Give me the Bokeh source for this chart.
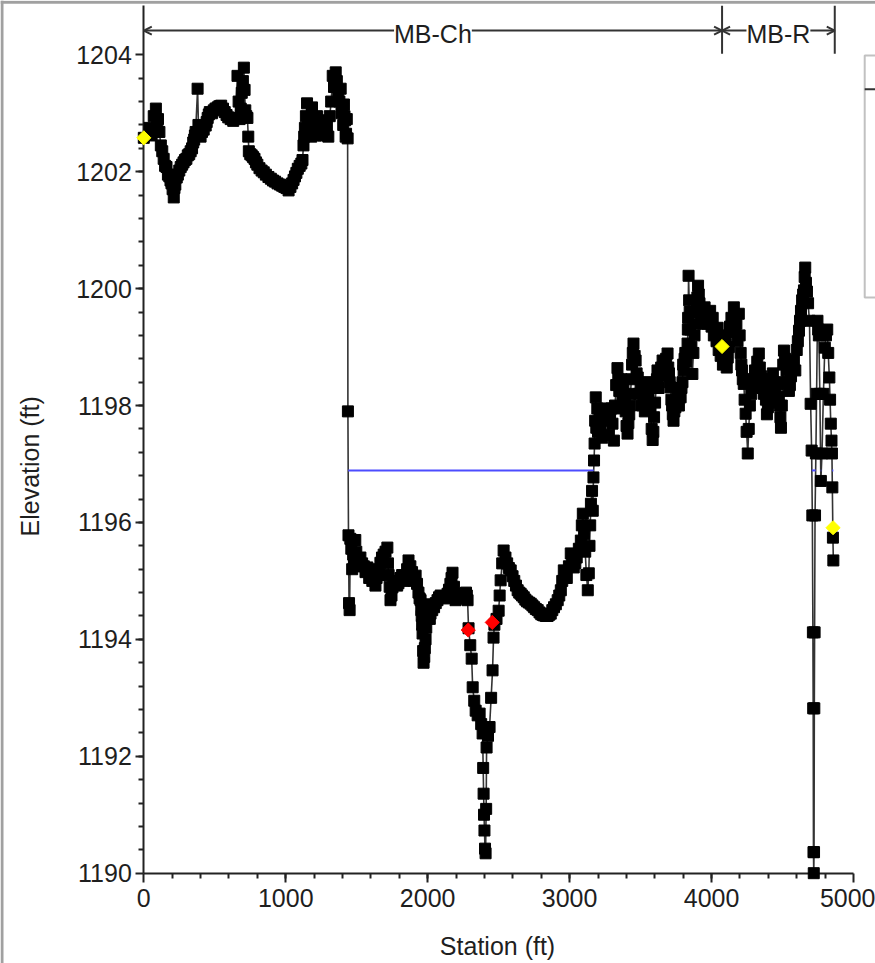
import numpy as np
from bokeh.plotting import figure
from bokeh.models import FixedTicker, Arrow, OpenHead, Label, Range1d, BoxAnnotation, Span
from bokeh.embed import file_html
from bokeh.resources import INLINE

# ---------------- data ----------------
# ground points (station ft, elevation ft), left high ground
ground_left = [
    (0, 1202.58), (40, 1202.75), (55, 1202.62), (70, 1202.95), (85, 1203.08), (95, 1202.85), (100, 1202.90),
    (110, 1202.68), (120, 1202.45), (130, 1202.35), (140, 1202.22), (150, 1202.10), (160, 1202.08),
    (170, 1201.95), (180, 1201.92), (188, 1201.85), (195, 1201.80), (203, 1201.70), (211, 1201.56),
    (216, 1201.72), (222, 1201.78), (232, 1201.90), (240, 1201.95), (250, 1202.02), (260, 1202.08),
    (270, 1202.12), (280, 1202.16), (290, 1202.20), (300, 1202.22), (310, 1202.28), (320, 1202.30),
    (330, 1202.35), (340, 1202.40), (348, 1202.50), (355, 1202.55), (360, 1202.62), (365, 1202.68),
    (379, 1203.42), (385, 1202.80), (390, 1202.75), (400, 1202.60), (410, 1202.68), (422, 1202.72),
    (436, 1202.79), (443, 1202.85), (450, 1202.92), (458, 1202.98), (465, 1203.02), (480, 1203.00),
    (493, 1203.05), (505, 1203.08), (520, 1203.10), (532, 1203.12), (545, 1203.13), (558, 1203.08),
    (570, 1203.02), (583, 1202.97), (595, 1202.93), (612, 1202.90), (630, 1202.87), (645, 1202.92),
    (660, 1203.64), (668, 1203.20), (675, 1202.90), (683, 1203.08), (690, 1203.35), (698, 1203.55),
    (705, 1203.78), (710, 1203.40), (715, 1203.05), (722, 1202.95), (730, 1202.92), (736, 1202.60),
    (740, 1202.35), (750, 1202.30), (760, 1202.28), (770, 1202.25), (780, 1202.22), (790, 1202.16),
    (800, 1202.12), (815, 1202.06), (830, 1202.02), (845, 1201.99), (860, 1201.95), (878, 1201.91),
    (895, 1201.88), (910, 1201.85), (925, 1201.83), (942, 1201.80), (960, 1201.78), (975, 1201.76),
    (990, 1201.74), (1005, 1201.72), (1020, 1201.68), (1033, 1201.74), (1045, 1201.80), (1055, 1201.86),
    (1065, 1201.92), (1075, 1201.98), (1085, 1202.05), (1098, 1202.10), (1110, 1202.14), (1118, 1202.20),
    (1125, 1202.45), (1130, 1202.60), (1135, 1202.75), (1142, 1202.95), (1150, 1203.17), (1157, 1202.90),
    (1165, 1202.70), (1172, 1202.85), (1180, 1202.60), (1185, 1203.10), (1192, 1202.75), (1200, 1202.80),
    (1210, 1202.62), (1220, 1202.95), (1230, 1202.70), (1245, 1202.88), (1255, 1202.70), (1265, 1202.62),
    (1275, 1202.85), (1290, 1202.78), (1300, 1202.60), (1310, 1202.95), (1320, 1203.20), (1331, 1203.64),
    (1340, 1203.45), (1352, 1203.70), (1360, 1203.55), (1370, 1203.38), (1378, 1203.20), (1387, 1203.42),
    (1393, 1203.00), (1400, 1203.10), (1405, 1202.80), (1410, 1203.15), (1414, 1202.95), (1418, 1202.88),
    (1422, 1202.60), (1425, 1202.65), (1430, 1202.90), (1436, 1202.57),
]
# ground points in the main channel
ground_channel = [
    (1438, 1197.90), (1442, 1195.78), (1446, 1194.62), (1450, 1194.50), (1455, 1195.72), (1462, 1195.55),
    (1468, 1195.20), (1475, 1195.45), (1482, 1195.30), (1490, 1195.70), (1497, 1195.50), (1505, 1195.38),
    (1515, 1195.25), (1526, 1195.40), (1538, 1195.30), (1550, 1195.25), (1562, 1195.15), (1575, 1195.23),
    (1588, 1195.05), (1600, 1195.10), (1610, 1195.00), (1620, 1195.18), (1632, 1194.92), (1640, 1195.05),
    (1650, 1195.20), (1658, 1195.10), (1667, 1195.31), (1678, 1195.40), (1690, 1195.45), (1703, 1195.50),
    (1716, 1195.57), (1720, 1195.30), (1725, 1195.10), (1732, 1194.90), (1738, 1194.67), (1745, 1194.75),
    (1752, 1194.89), (1763, 1194.95), (1775, 1195.00), (1785, 1194.92), (1794, 1194.96), (1808, 1195.05),
    (1820, 1195.10), (1832, 1195.00), (1844, 1195.04), (1855, 1195.20), (1865, 1195.35), (1878, 1195.25),
    (1890, 1195.15), (1902, 1195.00), (1915, 1195.09), (1925, 1194.95), (1935, 1194.80), (1943, 1194.70),
    (1950, 1194.67), (1955, 1194.50), (1958, 1194.40), (1961, 1194.25), (1964, 1194.10), (1968, 1193.80),
    (1971, 1193.60), (1976, 1193.70), (1980, 1193.85), (1985, 1194.00), (1990, 1194.20), (1995, 1194.35),
    (2000, 1194.50), (2005, 1194.60), (2010, 1194.45), (2015, 1194.35), (2020, 1194.44), (2032, 1194.50),
    (2045, 1194.55), (2057, 1194.62), (2069, 1194.67), (2080, 1194.72), (2091, 1194.75), (2103, 1194.72),
    (2115, 1194.70), (2128, 1194.74), (2140, 1194.78), (2150, 1194.85), (2160, 1194.95), (2168, 1195.05),
    (2175, 1195.14), (2185, 1194.90), (2196, 1194.67), (2210, 1194.70), (2225, 1194.72), (2240, 1194.75),
    (2253, 1194.78), (2262, 1194.70), (2270, 1194.80), (2276, 1194.75), (2281, 1194.67), (2288, 1194.19),
    (2300, 1193.90), (2310, 1193.67), (2317, 1193.18), (2328, 1192.95), (2338, 1192.78), (2352, 1192.70),
    (2366, 1192.73), (2377, 1192.55), (2387, 1192.39), (2391, 1191.80), (2394, 1191.36), (2397, 1191.00),
    (2400, 1190.73), (2404, 1190.42), (2408, 1190.34), (2412, 1191.10), (2415, 1192.15), (2425, 1192.35),
    (2436, 1192.50), (2447, 1193.00), (2457, 1193.47), (2464, 1194.03), (2470, 1194.25), (2485, 1194.35),
    (2500, 1194.49), (2507, 1194.75), (2514, 1195.01), (2525, 1195.30), (2535, 1195.52), (2548, 1195.40),
    (2560, 1195.30), (2572, 1195.22), (2585, 1195.18), (2598, 1195.08), (2610, 1195.00), (2622, 1194.92),
    (2634, 1194.84), (2645, 1194.80), (2655, 1194.78), (2665, 1194.75), (2677, 1194.72), (2688, 1194.68),
    (2700, 1194.65), (2713, 1194.63), (2726, 1194.61), (2738, 1194.58), (2750, 1194.55), (2762, 1194.52),
    (2775, 1194.50), (2788, 1194.46), (2800, 1194.43), (2810, 1194.42), (2818, 1194.41), (2832, 1194.40),
    (2845, 1194.40), (2856, 1194.42), (2867, 1194.44), (2878, 1194.50), (2890, 1194.55), (2903, 1194.60),
    (2916, 1194.67), (2927, 1194.75), (2938, 1194.84), (2948, 1195.00), (2959, 1195.18), (2970, 1195.10),
    (2980, 1195.05), (2995, 1195.25), (3008, 1195.47), (3018, 1195.35), (3029, 1195.23), (3040, 1195.30),
    (3050, 1195.40), (3065, 1195.55), (3079, 1195.69), (3086, 1195.95), (3093, 1196.15), (3102, 1195.80),
    (3110, 1195.50), (3118, 1195.10), (3128, 1194.84), (3135, 1195.13), (3140, 1195.60), (3145, 1195.95),
    (3150, 1196.32), (3158, 1196.54), (3163, 1196.20), (3168, 1196.77), (3172, 1197.06), (3176, 1197.35),
    (3180, 1197.74), (3184, 1198.14),
]
# ground points, right high ground and right overbank
ground_right = [
    (3188, 1197.62), (3195, 1197.95), (3200, 1197.55), (3210, 1197.85), (3218, 1197.62), (3230, 1197.45),
    (3240, 1197.80), (3255, 1197.95), (3267, 1197.74), (3275, 1197.50), (3285, 1197.85), (3295, 1197.95),
    (3302, 1197.69), (3312, 1197.40), (3320, 1198.00), (3328, 1198.35), (3337, 1198.64), (3343, 1198.45),
    (3350, 1198.25), (3358, 1197.95), (3365, 1198.45), (3372, 1198.10), (3379, 1198.30), (3387, 1198.05),
    (3395, 1197.90), (3401, 1197.65), (3408, 1197.52), (3414, 1197.70), (3420, 1197.85), (3425, 1198.00),
    (3429, 1198.20), (3435, 1198.45), (3440, 1198.70), (3445, 1198.90), (3450, 1199.06), (3458, 1198.85),
    (3465, 1198.77), (3472, 1198.55), (3480, 1198.48), (3490, 1198.20), (3500, 1198.30), (3510, 1198.00),
    (3520, 1198.09), (3530, 1197.90), (3540, 1198.25), (3548, 1198.40), (3556, 1198.20), (3563, 1198.00),
    (3570, 1197.95), (3578, 1197.60), (3585, 1197.41), (3590, 1197.55), (3595, 1197.80), (3602, 1198.05),
    (3610, 1198.30), (3615, 1198.45), (3619, 1198.60), (3627, 1198.30), (3635, 1198.50), (3645, 1198.65),
    (3655, 1198.77), (3662, 1198.55), (3670, 1198.70), (3680, 1198.80), (3690, 1198.89), (3695, 1198.65),
    (3700, 1198.55), (3705, 1198.40), (3711, 1198.31), (3717, 1198.10), (3722, 1198.00), (3727, 1197.85),
    (3732, 1197.74), (3738, 1197.90), (3745, 1197.97), (3752, 1198.10), (3760, 1198.20), (3770, 1198.00),
    (3782, 1198.14), (3788, 1198.30), (3795, 1198.40), (3800, 1198.70), (3803, 1198.60), (3810, 1198.80),
    (3815, 1198.90), (3822, 1198.75), (3831, 1199.06), (3833, 1199.30), (3835, 1199.50), (3838, 1200.22),
    (3842, 1199.80), (3846, 1199.60), (3850, 1199.30), (3858, 1199.00), (3865, 1198.54), (3872, 1198.90),
    (3880, 1199.20), (3887, 1199.40), (3894, 1199.62), (3900, 1199.85), (3905, 1200.05), (3910, 1199.90),
    (3915, 1199.75), (3922, 1199.60), (3930, 1199.55), (3940, 1199.40), (3951, 1199.68), (3960, 1199.50),
    (3970, 1199.40), (3980, 1199.55), (3990, 1199.62), (4000, 1199.35), (4008, 1199.50), (4016, 1199.20),
    (4025, 1199.30), (4035, 1199.10), (4043, 1199.33), (4050, 1198.95), (4055, 1199.10), (4064, 1198.85),
    (4074, 1199.01), (4080, 1198.70), (4085, 1198.82), (4092, 1199.20), (4100, 1199.05), (4107, 1198.65),
    (4114, 1198.82), (4122, 1199.00), (4130, 1199.35), (4140, 1199.50), (4148, 1199.25), (4157, 1199.68),
    (4165, 1199.30), (4175, 1199.40), (4183, 1199.10), (4192, 1199.57), (4198, 1199.20), (4205, 1198.90),
    (4210, 1198.70), (4215, 1198.60), (4220, 1198.45), (4227, 1198.37), (4233, 1198.10), (4240, 1197.86),
    (4247, 1197.55), (4255, 1197.18), (4262, 1197.60), (4270, 1198.00), (4280, 1198.20), (4290, 1198.45),
    (4298, 1198.31), (4306, 1198.60), (4315, 1198.55), (4322, 1198.75), (4333, 1198.89), (4340, 1198.65),
    (4350, 1198.50), (4358, 1198.30), (4369, 1198.20), (4376, 1198.35), (4383, 1198.10), (4390, 1197.85),
    (4397, 1197.97), (4405, 1198.15), (4415, 1198.30), (4422, 1198.45), (4432, 1198.55), (4440, 1198.35),
    (4450, 1198.20), (4458, 1198.05), (4467, 1198.37), (4474, 1198.15), (4480, 1198.00), (4485, 1197.80),
    (4489, 1197.62), (4495, 1198.00), (4500, 1198.40), (4505, 1198.70), (4510, 1198.94), (4518, 1198.80),
    (4528, 1198.60), (4536, 1198.40), (4545, 1198.25), (4552, 1198.35), (4560, 1198.50), (4570, 1198.65),
    (4580, 1198.77), (4590, 1198.60), (4600, 1198.95), (4608, 1199.10), (4616, 1199.28), (4623, 1199.45),
    (4630, 1199.62), (4638, 1199.80), (4645, 1199.90), (4651, 1199.97), (4656, 1200.20), (4660, 1200.36),
    (4665, 1200.10), (4672, 1199.95), (4680, 1199.75), (4690, 1199.45), (4698, 1198.03), (4705, 1197.23),
    (4710, 1196.12), (4714, 1194.12), (4716, 1192.82), (4718, 1190.36), (4720, 1190.00), (4722, 1190.36),
    (4724, 1192.82), (4726, 1194.12), (4729, 1196.12), (4735, 1197.18), (4740, 1198.20), (4746, 1199.45),
    (4751, 1199.30), (4756, 1199.20), (4763, 1198.20), (4770, 1196.71), (4778, 1197.18), (4788, 1198.20),
    (4798, 1198.99), (4806, 1199.20), (4815, 1199.30), (4822, 1198.90), (4830, 1198.48), (4835, 1198.10),
    (4840, 1197.69), (4845, 1197.40), (4848, 1197.18), (4851, 1196.60), (4855, 1195.74), (4858, 1195.35),
]
bank_station = [0, 4074, 4856]
bank_elevation = [1202.58, 1199.01, 1195.91]
red_station = [2286, 2455]
red_elevation = [1194.16, 1194.29]
water_surface = 1196.89
reach_bounds = [0, 4074, 4868]
reach_labels = ["MB-Ch", "MB-R"]
x_ticks = [0, 1000, 2000, 3000, 4000, 5000]
y_ticks = [1190, 1192, 1194, 1196, 1198, 1200, 1202, 1204]

# ---------------- styles / layout ----------------
FONT = "Liberation Sans"
TXT = "#1e1e1e"
AX = "#222222"
X_RANGE = (-1009.6, 5155.0)
Y_RANGE = (1188.455, 1204.929)
AXIS_TOP = 1204.84
ARROW_Y = 1204.415
LABEL_Y = 1204.35
BAR_BOTTOM = 1204.02

profile = ground_left + ground_channel + ground_right
station = [s for s, _ in profile]
elevation = [e for _, e in profile]

# water surface drawn where the ground lies below it
st = np.array(station, dtype=float)
el = np.array(elevation, dtype=float)
below = el < water_surface
ws_xs, ws_ys = [], []
start = None
n = len(st)
for i in range(n):
    if below[i] and (i == 0 or not below[i - 1]):
        start = st[0] if i == 0 else st[i - 1] + (water_surface - el[i - 1]) * (st[i] - st[i - 1]) / (el[i] - el[i - 1])
    if below[i] and (i == n - 1 or not below[i + 1]):
        end = st[-1] if i == n - 1 else st[i] + (water_surface - el[i]) * (st[i + 1] - st[i]) / (el[i + 1] - el[i])
        ws_xs.append([start, end])
        ws_ys.append([water_surface, water_surface])

p = figure(width=875, height=963, x_range=Range1d(*X_RANGE), y_range=Range1d(*Y_RANGE),
           output_backend="svg", toolbar_location=None, min_border=0,
           min_border_left=0, min_border_right=0, min_border_top=0, min_border_bottom=0)
p.xgrid.visible = False
p.ygrid.visible = False
p.outline_line_color = None
p.background_fill_color = "white"
p.border_fill_color = "white"

p.xaxis.ticker = FixedTicker(ticks=x_ticks, minor_ticks=list(range(200, 5000, 200)))
p.yaxis.ticker = FixedTicker(ticks=y_ticks, minor_ticks=[round(1190 + 0.4 * k, 1) for k in range(1, 35)])
p.xaxis.fixed_location = 1190
p.yaxis.fixed_location = 0
p.xaxis.bounds = (0, 5000)
p.yaxis.bounds = (1190, AXIS_TOP)

for ax in (p.xaxis, p.yaxis):
    ax.axis_line_color = AX
    ax.axis_line_width = 2
    ax.major_tick_line_color = AX
    ax.major_tick_line_width = 2
    ax.minor_tick_line_color = AX
    ax.minor_tick_line_width = 2
    ax.major_tick_in = 0
    ax.minor_tick_in = 0
    ax.major_label_text_font = FONT
    ax.major_label_text_font_size = "25px"
    ax.major_label_text_color = TXT

p.xaxis.major_tick_out = 9
p.xaxis.minor_tick_out = 5
p.xaxis.major_label_standoff = 7
p.yaxis.major_tick_out = 8
p.yaxis.minor_tick_out = 5
p.yaxis.major_label_standoff = 4

# window frame edges of the original screenshot
p.add_layout(Span(location=-999, dimension="height", line_color="#a0a0a0", line_width=3))
p.add_layout(Span(location=1204.90, dimension="width", line_color="#a0a0a0", line_width=3))

# axis titles
p.add_layout(Label(x=2492, y=1188.75, text="Station (ft)", text_align="center", text_baseline="middle",
                   text_font=FONT, text_font_size="25px", text_color=TXT))
p.add_layout(Label(x=-800, y=1196.96, text="Elevation (ft)", angle=np.pi / 2, text_align="center",
                   text_baseline="middle", text_font=FONT, text_font_size="25px", text_color=TXT))

# ground profile
p.line(station, elevation, line_color="#333333", line_width=1.6)
p.multi_line(ws_xs, ws_ys, line_color="#4d4dff", line_width=2)
p.scatter(station, elevation, marker="square", size=11, fill_color="black", line_color="black",
          level="annotation")
p.scatter(red_station, red_elevation, marker="square", angle=np.pi / 4, size=10,
          fill_color="#ff0000", line_color="#ff0000", level="annotation")
p.scatter(bank_station, bank_elevation, marker="square", angle=np.pi / 4, size=10,
          fill_color="#ffff00", line_color="#ffff00", level="annotation")

# reach annotation along the top
p.segment(x0=reach_bounds[1:], y0=[BAR_BOTTOM] * 2, x1=reach_bounds[1:], y1=[AXIS_TOP] * 2,
          line_color="#333333", line_width=2)
for i, lab in enumerate(reach_labels):
    a, b = reach_bounds[i], reach_bounds[i + 1]
    p.add_layout(Arrow(x_start=a, y_start=ARROW_Y, x_end=b, y_end=ARROW_Y,
                       start=OpenHead(size=8, line_color="#333333", line_width=2),
                       end=OpenHead(size=8, line_color="#333333", line_width=2),
                       line_color="#333333", line_width=2))
    p.add_layout(Label(x=(a + b) / 2, y=LABEL_Y, text=lab, text_align="center", text_baseline="middle",
                       text_font=FONT, text_font_size="25px", text_color=TXT,
                       background_fill_color="white"))

# partially visible legend box at the right edge
p.add_layout(BoxAnnotation(left=5079, right=5600, top=1203.99, bottom=1199.85,
                           fill_alpha=0, line_color="#333333", line_width=2))
p.segment(x0=[5079], y0=[1203.41], x1=[5600], y1=[1203.41], line_color="#333333", line_width=2)

open("out.html", "w").write(file_html(p, INLINE))
